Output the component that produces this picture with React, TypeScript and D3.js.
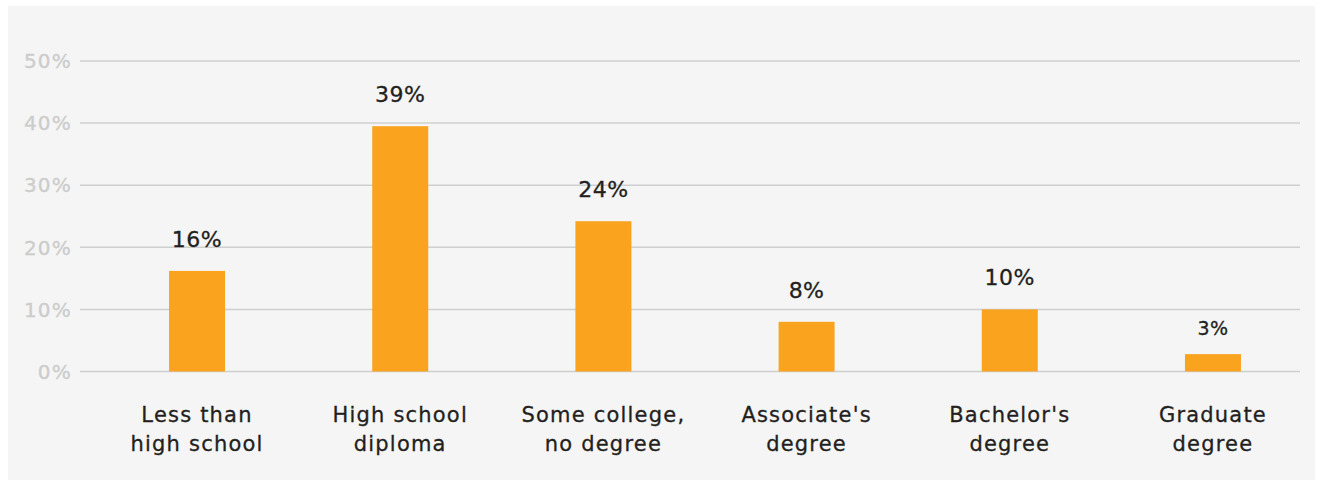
import React from "react";
import * as d3 from "d3";

const categories = [
  ["Less than", "high school"],
  ["High school", "diploma"],
  ["Some college,", "no degree"],
  ["Associate's", "degree"],
  ["Bachelor's", "degree"],
  ["Graduate", "degree"],
];
const values = [16.2, 39.5, 24.2, 8.0, 10.0, 2.8];
const valueLabels = ["16%", "39%", "24%", "8%", "10%", "3%"];
const yTicks = [0, 10, 20, 30, 40, 50];

const W = 1323;
const H = 482;

export default function App() {
  const x = d3
    .scaleBand<number>()
    .domain(d3.range(values.length))
    .range([95.5, 1314.5])
    .paddingInner(0.7245)
    .paddingOuter(0.362);
  const y = d3.scaleLinear().domain([0, 50]).range([371.5, 61]);
  const font = "'DejaVu Sans', sans-serif";
  return (
    <svg
      width={W}
      height={H}
      style={{ position: "absolute", left: 0, top: 0 }}
      fontFamily={font}
    >
      <rect x={0} y={0} width={W} height={H} fill="#ffffff" />
      <rect x={8} y={6} width={1307} height={474} fill="#f4f5f4" />
      {yTicks.map((t) => (
        <g key={t}>
          <line
            x1={80}
            x2={1300}
            y1={y(t)}
            y2={y(t)}
            stroke="#cfcfcf"
            strokeWidth={1.5}
          />
          <text
            x={72}
            y={y(t)}
            dy="0.36em"
            textAnchor="end"
            fontSize={20}
            letterSpacing={1.2}
            fill="#cccccc"
            stroke="#cccccc"
            strokeWidth={0.3}
          >
            {t}%
          </text>
        </g>
      ))}
      {values.map((v, i) => {
        const cx = (x(i) as number) + x.bandwidth() / 2;
        return (
          <g key={i}>
            <rect
              x={x(i)}
              y={y(v)}
              width={x.bandwidth()}
              height={y(0) - y(v)}
              fill="#f9a31f"
            />
            <text
              x={cx}
              y={y(v) - (i === 5 ? 19 : 24)}
              textAnchor="middle"
              fontSize={i === 5 ? 19 : 22}
              letterSpacing={0.5}
              fill="#231f20"
              stroke="#231f20"
              strokeWidth={0.3}
            >
              {valueLabels[i]}
            </text>
            {categories[i].map((line, j) => (
              <text
                key={j}
                x={cx}
                y={421.5 + j * 29}
                textAnchor="middle"
                fontSize={21}
                letterSpacing={1.2}
                fill="#231f20"
                stroke="#231f20"
                strokeWidth={0.3}
              >
                {line}
              </text>
            ))}
          </g>
        );
      })}
    </svg>
  );
}
